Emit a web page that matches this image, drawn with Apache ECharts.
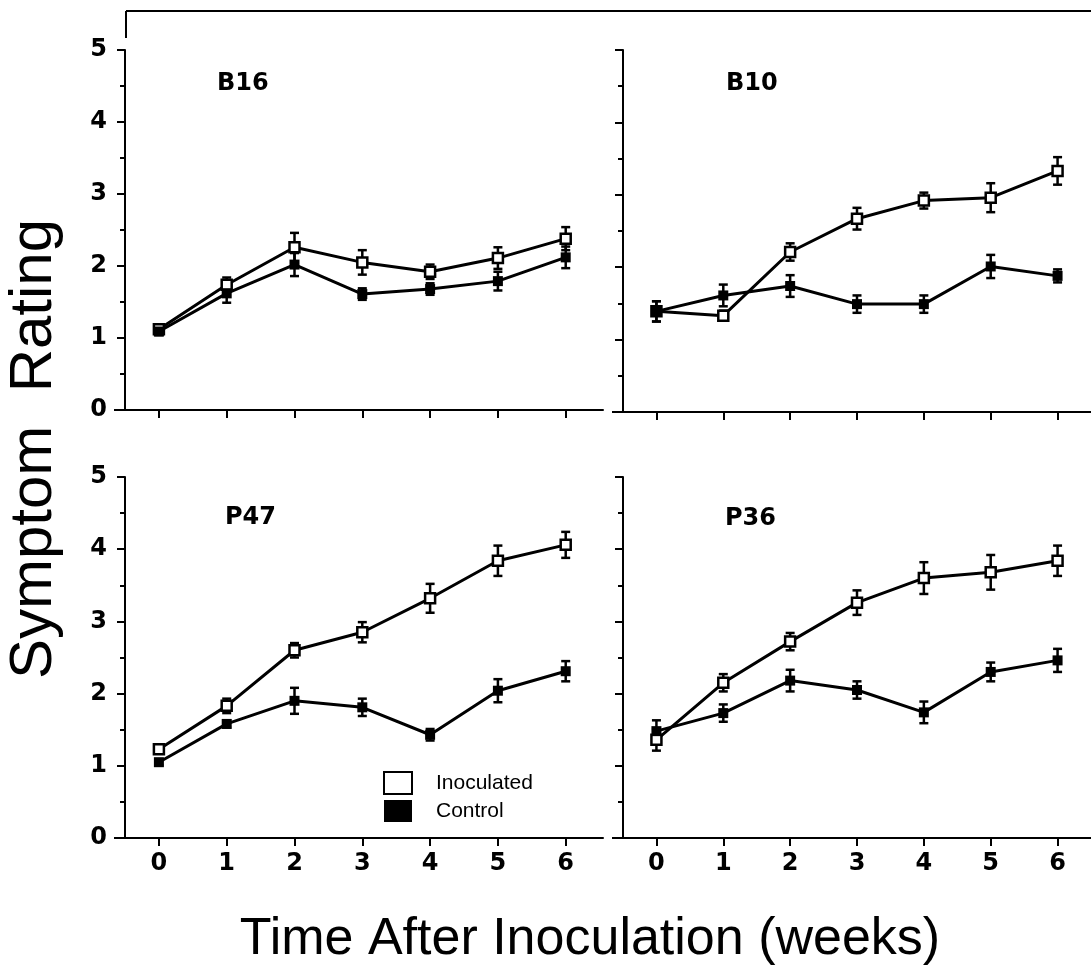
<!DOCTYPE html>
<html lang="en">
<head>
<meta charset="UTF-8">
<title>Symptom Rating</title>
<script src="https://cdn.jsdelivr.net/npm/echarts@6/dist/echarts.min.js"></script>
<style>
  html, body { margin: 0; padding: 0; background: #fff; }
  #main { width: 1091px; height: 979px; }
</style>
</head>
<body>
<div id="main"></div>
<script>
// weeks after inoculation
var weeks = [0, 1, 2, 3, 4, 5, 6];
var yTicks = [0, 1, 2, 3, 4, 5];

// B16
var b16Inoc    = [1.12, 1.74, 2.26, 2.05, 1.92, 2.11, 2.38];
var b16InocErr = [0.05, 0.10, 0.20, 0.17, 0.10, 0.15, 0.16];
var b16Ctrl    = [1.09, 1.62, 2.02, 1.61, 1.68, 1.79, 2.12];
var b16CtrlErr = [0.05, 0.13, 0.16, 0.08, 0.08, 0.13, 0.15];

// B10
var b10Inoc    = [1.39, 1.33, 2.21, 2.67, 2.92, 2.96, 3.33];
var b10InocErr = [0.14, 0.07, 0.12, 0.15, 0.11, 0.20, 0.19];
var b10Ctrl    = [1.39, 1.61, 1.74, 1.49, 1.49, 2.01, 1.88];
var b10CtrlErr = [0.14, 0.15, 0.15, 0.12, 0.12, 0.16, 0.09];

// P47
var p47Inoc    = [1.23, 1.83, 2.60, 2.85, 3.32, 3.84, 4.06];
var p47InocErr = [0.04, 0.10, 0.10, 0.14, 0.20, 0.21, 0.18];
var p47Ctrl    = [1.05, 1.58, 1.90, 1.81, 1.43, 2.04, 2.31];
var p47CtrlErr = [0.04, 0.05, 0.18, 0.12, 0.08, 0.16, 0.14];

// P36
var p36Inoc    = [1.36, 2.15, 2.72, 3.26, 3.60, 3.68, 3.84];
var p36InocErr = [0.15, 0.12, 0.12, 0.17, 0.22, 0.24, 0.21];
var p36Ctrl    = [1.48, 1.73, 2.18, 2.05, 1.74, 2.30, 2.46];
var p36CtrlErr = [0.15, 0.12, 0.15, 0.12, 0.15, 0.13, 0.16];

var chart = echarts.init(document.getElementById('main'));

var panels = [
  { name: 'B16', inoc: b16Inoc, inocErr: b16InocErr, ctrl: b16Ctrl, ctrlErr: b16CtrlErr,
    left: 125, width: 478, top: 50, height: 360, xMax: 6.55, showX: false, showY: true, tx: 217, ty: 84 },
  { name: 'B10', inoc: b10Inoc, inocErr: b10InocErr, ctrl: b10Ctrl, ctrlErr: b10CtrlErr,
    left: 623, width: 476, top: 50, height: 362, xMax: 6.5, showX: false, showY: false, tx: 726, ty: 84 },
  { name: 'P47', inoc: p47Inoc, inocErr: p47InocErr, ctrl: p47Ctrl, ctrlErr: p47CtrlErr,
    left: 125, width: 478, top: 477, height: 361, xMax: 6.55, showX: true, showY: true, tx: 225, ty: 518 },
  { name: 'P36', inoc: p36Inoc, inocErr: p36InocErr, ctrl: p36Ctrl, ctrlErr: p36CtrlErr,
    left: 623, width: 476, top: 477, height: 361, xMax: 6.5, showX: true, showY: false, tx: 725, ty: 519 }
];

var blackLine = { color: '#000', width: 2 };
var labelFont = { color: '#000', fontFamily: 'DejaVu Sans', fontWeight: 'bold', fontSize: 24 };

function errorBar(params, api) {
  var x = api.value(0), y = api.value(1), e = api.value(2);
  var hi = api.coord([x, y + e]);
  var lo = api.coord([x, y - e]);
  var w = 4.5;
  var st = { stroke: '#000', lineWidth: 2.5 };
  return {
    type: 'group',
    children: [
      { type: 'line', shape: { x1: hi[0], y1: hi[1], x2: lo[0], y2: lo[1] }, style: st },
      { type: 'line', shape: { x1: hi[0] - w, y1: hi[1], x2: hi[0] + w, y2: hi[1] }, style: st },
      { type: 'line', shape: { x1: lo[0] - w, y1: lo[1], x2: lo[0] + w, y2: lo[1] }, style: st }
    ]
  };
}

function pairs(vals) {
  return weeks.map(function (w, i) { return [w, vals[i]]; });
}
function triples(vals, errs) {
  return weeks.map(function (w, i) { return [w, vals[i], errs[i]]; });
}

var grids = [], xAxes = [], yAxes = [], series = [], graphics = [];

panels.forEach(function (p, k) {
  grids.push({ left: p.left, top: p.top, width: p.width, height: p.height });
  xAxes.push({
    type: 'value', gridIndex: k, min: -0.5, max: p.xMax,
    axisLine: { onZero: false, lineStyle: blackLine },
    axisTick: { show: true, inside: false, length: 8, lineStyle: blackLine, customValues: weeks },
    axisLabel: { show: p.showX, margin: 14, customValues: weeks, ...labelFont },
    splitLine: { show: false }
  });
  yAxes.push({
    type: 'value', gridIndex: k, min: 0, max: 5, interval: 1,
    axisLine: { show: true, onZero: false, lineStyle: blackLine },
    axisTick: { show: true, inside: false, length: 8, lineStyle: blackLine },
    minorTick: { show: true, splitNumber: 2, length: 5, lineStyle: { color: '#000', width: 2 } },
    axisLabel: { show: p.showY, margin: 18, ...labelFont },
    splitLine: { show: false }
  });
  series.push({
    type: 'custom', name: 'Inoculated', xAxisIndex: k, yAxisIndex: k,
    renderItem: errorBar, data: triples(p.inoc, p.inocErr), encode: { x: 0, y: 1 }, z: 3
  });
  series.push({
    type: 'custom', name: 'Control', xAxisIndex: k, yAxisIndex: k,
    renderItem: errorBar, data: triples(p.ctrl, p.ctrlErr), encode: { x: 0, y: 1 }, z: 3
  });
  series.push({
    type: 'line', name: 'Inoculated', xAxisIndex: k, yAxisIndex: k,
    data: pairs(p.inoc), symbol: 'rect', symbolSize: 10,
    lineStyle: { color: '#000', width: 3 },
    itemStyle: { color: '#fff', borderColor: '#000', borderWidth: 2.5 }, z: 4
  });
  series.push({
    type: 'line', name: 'Control', xAxisIndex: k, yAxisIndex: k,
    data: pairs(p.ctrl), symbol: 'rect', symbolSize: 10,
    lineStyle: { color: '#000', width: 3 },
    itemStyle: { color: '#000' }, z: 5
  });
  graphics.push({
    type: 'text', left: p.tx, top: p.ty - 12,
    style: { text: p.name, fill: '#000', font: 'bold 24px "DejaVu Sans"' }
  });
  // x axis line runs a little past the y axis on the left
  graphics.push({
    type: 'line', shape: { x1: p.left - 11, y1: p.top + p.height, x2: p.left, y2: p.top + p.height },
    style: { stroke: '#000', lineWidth: 2 }
  });
});

// frame at the top
graphics.push({ type: 'line', shape: { x1: 126, y1: 11, x2: 1091, y2: 11 }, style: { stroke: '#000', lineWidth: 2 } });
graphics.push({ type: 'line', shape: { x1: 126, y1: 11, x2: 126, y2: 38 }, style: { stroke: '#000', lineWidth: 2 } });

// axis titles
graphics.push({
  type: 'text', x: 34, y: 449, rotation: Math.PI / 2,
  style: { text: 'Symptom  Rating', fill: '#000', font: '60px "Liberation Sans"', align: 'center', verticalAlign: 'middle' }
});
graphics.push({
  type: 'text', x: 590, y: 940,
  style: { text: 'Time After Inoculation (weeks)', fill: '#000', font: '52px "Liberation Sans"', align: 'center', verticalAlign: 'middle' }
});

chart.setOption({
  animation: false,
  backgroundColor: '#fff',
  grid: grids,
  xAxis: xAxes,
  yAxis: yAxes,
  series: series,
  graphic: graphics,
  legend: {
    orient: 'vertical', left: 383, top: 771, itemGap: 5, padding: 0,
    itemWidth: 28, itemHeight: 22,
    textStyle: { color: '#000', fontSize: 21, fontFamily: 'Liberation Sans', padding: [0, 0, 0, 19] },
    data: [
      { name: 'Inoculated', icon: 'rect', itemStyle: { color: '#fff', borderColor: '#000', borderWidth: 2 } },
      { name: 'Control', icon: 'rect', itemStyle: { color: '#000' } }
    ]
  }
});
</script>
</body>
</html>
